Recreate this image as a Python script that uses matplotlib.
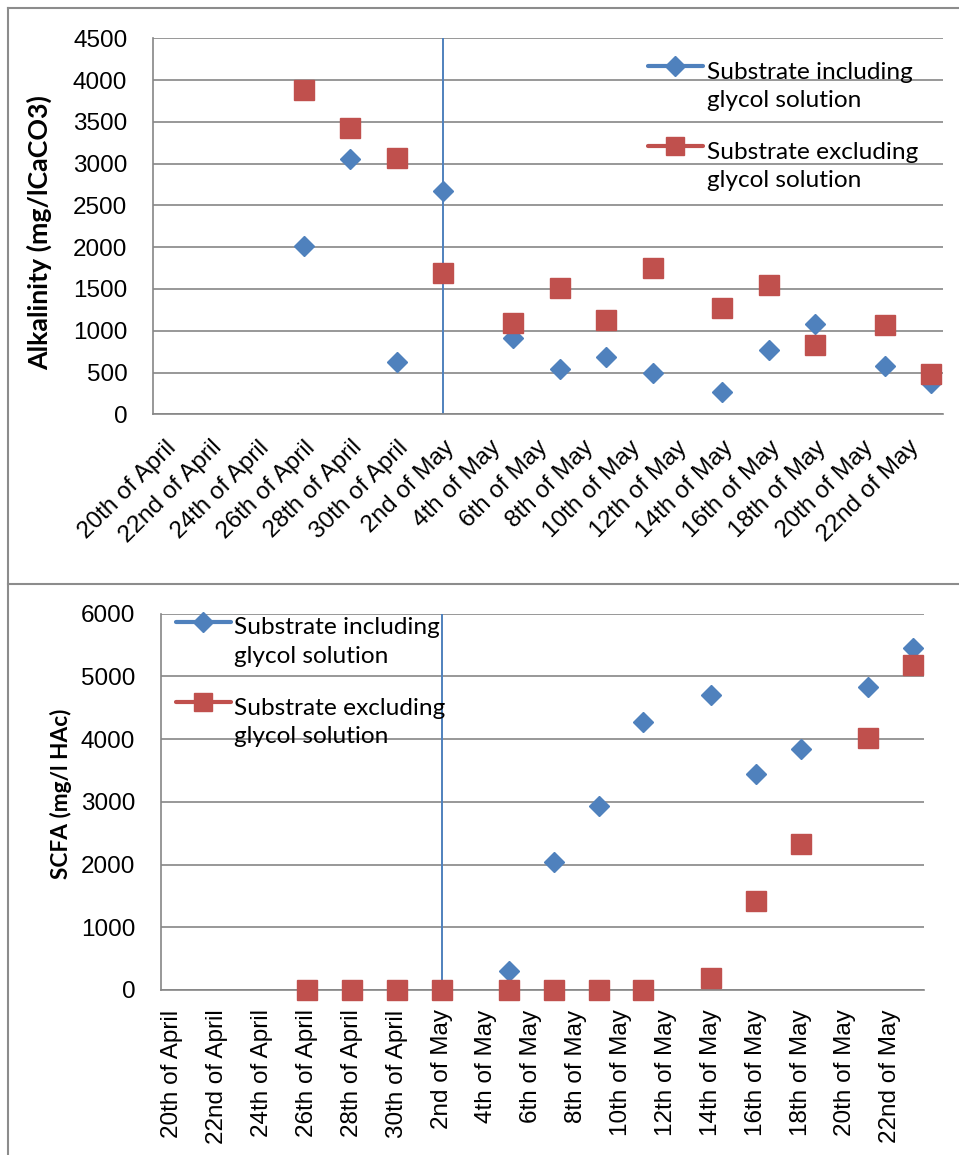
import numpy as np
import matplotlib.pyplot as plt
from matplotlib.lines import Line2D
from matplotlib.transforms import offset_copy

# sampling days, counted from the 20th of April
sample_day = [6, 8, 10, 12, 15, 17, 19, 21, 24, 26, 28, 31, 33]

alk_incl = [2010, 3050, 630, 2670, 915, 540, 680, 500, 270, 775, 1080, 580, 370]
alk_excl = [3880, 3430, 3065, 1690, 1095, 1515, 1130, 1755, 1270, 1545, 825, 1065, 480]

scfa_incl = [0, 0, 0, 0, 305, 2035, 2940, 4270, 4705, 3450, 3845, 4825, 5450]
scfa_excl = [0, 0, 0, 0, 0, 0, 0, 0, 185, 1415, 2330, 4015, 5180]

tick_day = list(range(0, 33, 2))
tick_labels = ["20th of April", "22nd of April", "24th of April", "26th of April",
               "28th of April", "30th of April", "2nd of May", "4th of May",
               "6th of May", "8th of May", "10th of May", "12th of May",
               "14th of May", "16th of May", "18th of May", "20th of May",
               "22nd of May"]
feed_change_day = 12  # 2nd of May

series_names = ["Substrate including\nglycol solution",
                "Substrate excluding\nglycol solution"]

BLUE = "#4F81BD"
RED = "#C0504D"
GRID = "#868686"
TICK_FONT = "Liberation Sans"
TEXT_FONT = "Lato"


def style_axes(ax, ymax, ystep, ylabel, label_size, rot):
    ax.set_xlim(-0.5, 33.5)
    ax.set_ylim(0, ymax)
    ax.set_yticks(np.arange(0, ymax + 1, ystep))
    ax.set_xticks(tick_day)
    ax.yaxis.grid(True, color=GRID, lw=1.2)
    ax.set_axisbelow(True)
    for side in ["top", "right"]:
        ax.spines[side].set_visible(False)
    for side in ["left", "bottom"]:
        ax.spines[side].set_color(GRID)
        ax.spines[side].set_linewidth(1.2)
    ax.tick_params(axis="y", length=0, pad=18.5, labelsize=17.5)
    ax.tick_params(axis="x", length=0, labelsize=17.5)
    for lab in ax.get_yticklabels():
        lab.set_fontfamily(TICK_FONT)
    if rot == 45:
        ax.set_xticklabels(tick_labels, rotation=45, ha="right", va="top",
                           rotation_mode="anchor", fontfamily=TICK_FONT)
        ax.tick_params(axis="x", pad=16)
    else:
        ax.set_xticklabels(tick_labels, rotation=90, ha="center", va="top",
                           fontfamily=TICK_FONT)
        ax.tick_params(axis="x", pad=14)
    ax.set_ylabel(ylabel, fontsize=label_size, fontweight="bold",
                  fontfamily=TEXT_FONT)


def draw_legend(ax, x0, x1, xt, ys):
    # text block: baseline of the second line sits ~41 px under the handle
    text_trans = offset_copy(ax.transAxes, fig=ax.figure, y=-41, units="dots")
    for (y, col, mk, ms, name) in zip(ys, [BLUE, RED], ["D", "s"], [10, 12.5], series_names):
        ax.add_line(Line2D([x0, x1], [y, y], transform=ax.transAxes, color=col,
                           lw=3, solid_capstyle="round", clip_on=False, zorder=5))
        ax.add_line(Line2D([(x0 + x1) / 2], [y], transform=ax.transAxes, color=col,
                           marker=mk, markersize=ms, clip_on=False, zorder=5))
        ax.text(xt, y, name, transform=text_trans, fontsize=17.6,
                fontfamily=TEXT_FONT, va="baseline", ha="left",
                linespacing=1.42, zorder=5)


def plot_panel(ax, incl, excl):
    ax.axvline(feed_change_day, color=BLUE, lw=1.4, zorder=2)
    ax.plot(sample_day, incl, ls="none", marker="D", markersize=10.2,
            color=BLUE, zorder=3, clip_on=False)
    ax.plot(sample_day, excl, ls="none", marker="s", markersize=14.4,
            color=RED, zorder=4, clip_on=False)


fig = plt.figure(figsize=(9.59, 11.55), dpi=100)

ax1 = fig.add_axes([0.1595, 0.6413, 0.8238, 0.3255])
plot_panel(ax1, alk_incl, alk_excl)
style_axes(ax1, 4500, 500, "Alkalinity (mg/lCaCO3)", 19.3, 45)
ax1.yaxis.set_label_coords(-0.128, 0.484)
draw_legend(ax1, 0.6266, 0.696, 0.701, [0.926, 0.713])

ax2 = fig.add_axes([0.1679, 0.1429, 0.7956, 0.3258])
plot_panel(ax2, scfa_incl, scfa_excl)
style_axes(ax2, 6000, 1000, "SCFA (mg/l HAc)", 16.3, 90)
ax2.yaxis.set_label_coords(-0.117, 0.522)
draw_legend(ax2, 0.0193, 0.0917, 0.096, [0.979, 0.766])

# chart frames
frame = dict(transform=fig.transFigure, color="#8C8C8C", lw=1.5)
fig.add_artist(Line2D([0.0083, 1.0], [0.9931, 0.9931], **frame))
fig.add_artist(Line2D([0.0083, 0.0083], [0.0, 0.9931], **frame))
fig.add_artist(Line2D([0.0083, 1.0], [0.4944, 0.4944], **frame))

fig.savefig("out.png", dpi=100)
